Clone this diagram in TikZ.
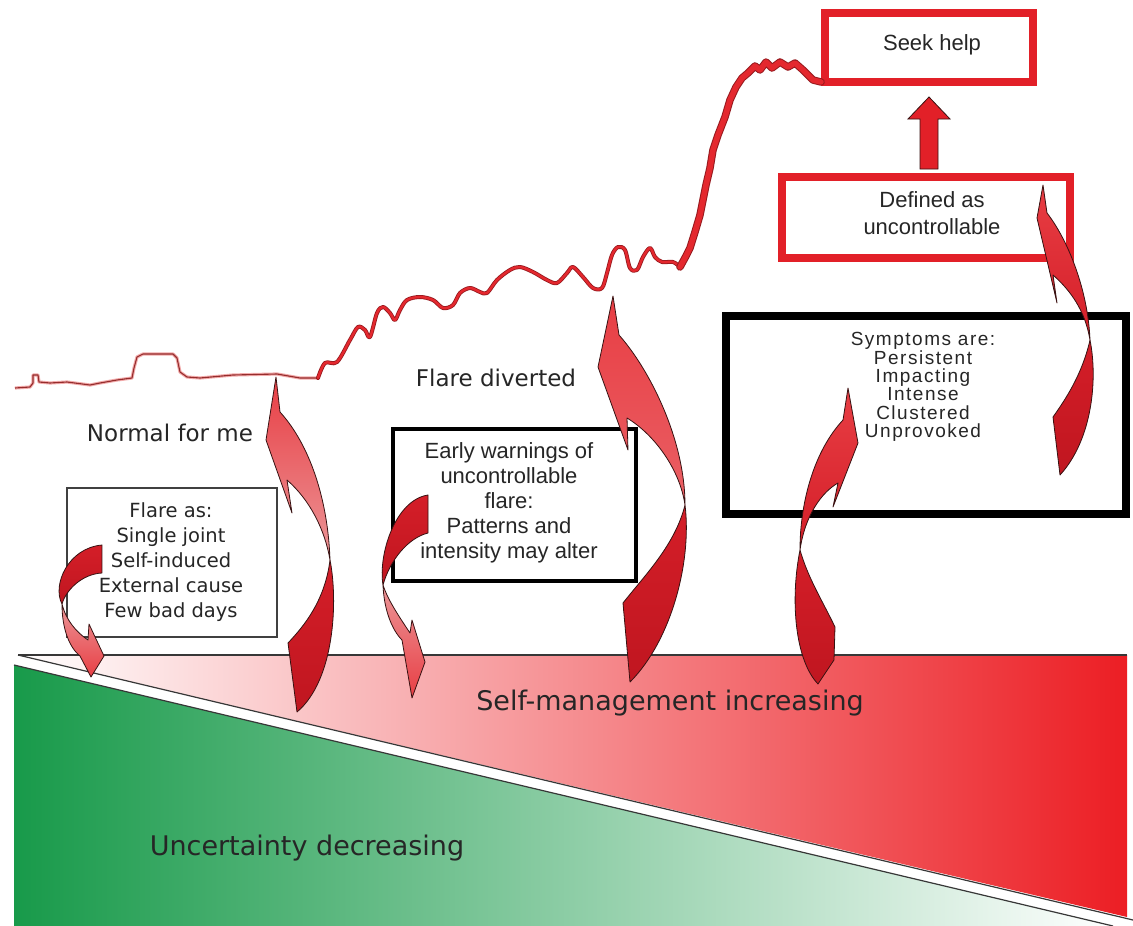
\documentclass[tikz,border=0pt]{standalone}
\usepackage{fontspec}
\setmainfont{DejaVu Sans}
\newfontfamily\arialf{Liberation Sans}
\newfontfamily\arialsp[LetterSpace=8]{Liberation Sans}
\newfontfamily\dejaf{DejaVu Sans}
\usetikzlibrary{calc}
\definecolor{boxred}{RGB}{226,32,40}
\definecolor{linered}{RGB}{228,40,46}
\definecolor{lineedge}{RGB}{150,25,30}
\definecolor{thincore}{RGB}{150,45,45}
\definecolor{thinhalo}{RGB}{242,170,170}
\definecolor{txtgray}{RGB}{38,38,38}
\definecolor{arrowedge}{RGB}{55,18,18}
\definecolor{wedgered}{RGB}{236,30,36}
\definecolor{wedgepink}{RGB}{244,172,174}
\definecolor{wedgegreen}{RGB}{24,154,74}
\definecolor{wedgelgreen}{RGB}{140,204,160}
\definecolor{wedgeline}{RGB}{55,55,55}
\definecolor{pdark}{RGB}{212,30,40}
\definecolor{pdark2}{RGB}{192,22,32}
\definecolor{pred}{RGB}{232,62,68}
\definecolor{ppink}{RGB}{236,150,152}
\definecolor{pmid}{RGB}{234,95,100}
\tikzset{
  arrline/.style={draw=arrowedge, line width=0.8pt, line join=round},
  redbox/.style={draw=boxred, line width=8pt, inner sep=0pt, fill=white},
  blackbox/.style={draw=black, inner sep=0pt, fill=white},
  txt/.style={text=txtgray, inner sep=0pt, align=center},
  thinhalo/.style={draw=thinhalo, line width=3.2pt, line join=round},
  thincore/.style={draw=thincore, line width=1.1pt, line join=round},
  waveedge/.style={draw=lineedge, line width=4pt, line join=round, line cap=round},
  waveline/.style={draw=linered, line width=2.4pt, line join=round, line cap=round},
  steepedge/.style={draw=lineedge, line width=7.5pt, line join=round, line cap=round},
  steepline/.style={draw=linered, line width=5.5pt, line join=round, line cap=round},
  wedgeedge/.style={draw=wedgeline, line width=1.2pt},
  uparrow/.style={fill=boxred, draw=arrowedge, line width=0.8pt, line join=miter}
}
\def\thinpath{(15,388) -- (30,387) -- (33,383) -- (33,375) -- (38,375) -- (39,382) -- (50,383) -- (67,382) -- (90,385) -- (100,383) -- (117,380) -- (132,378) -- (134,368) -- (137,357) -- (143,354) -- (173,354) -- (177,358) -- (180,372) -- (187,377) -- (200,378) -- (233,375) -- (277,374) -- (300,378) -- (318,378)}
\def\wavepath{plot[smooth, tension=0.55] coordinates {(318,378) (325,363) (337,362) (350,340) (358,327) (365,330) (370,337) (377,313) (383,307) (390,313) (395,320) (400,310) (407,300) (420,297) (433,300) (443,308) (453,305) (460,293) (470,288) (480,292) (487,293) (497,280) (510,270) (520,267) (533,272) (547,280) (557,283) (567,273) (573,267) (583,277) (593,288) (602,288) (607,273) (612,255) (618,247) (625,250) (630,268) (637,270) (643,257) (650,248) (655,257) (662,262) (673,262) (680,267)}}
\def\steeppath{(680,267) -- (686,256) -- (690,248) -- (695,232) -- (700,215) -- (703,200) -- (706,185) -- (710,168) -- (713,150) -- (718,135) -- (725,117) -- (730,100) -- (736,87) -- (742,78) -- (748,73) -- (755,66) -- (760,70) -- (766,62) -- (772,68) -- (780,62) -- (788,67) -- (795,63) -- (803,70) -- (813,80) -- ($(seekbox.south west)+(0,-4)$)}
\begin{document}
\begin{tikzpicture}[x=1pt,y=-1pt]
\useasboundingbox (0,0) rectangle (1133,926);
\fill[white] (0,0) rectangle (1133,926);

% wedge
\shade[left color=white, middle color=wedgepink, right color=wedgered] (18,655) -- (1127,655) -- (1127,917) -- cycle;
\shade[left color=wedgegreen, middle color=wedgelgreen, right color=white] (14,665) -- (1113,926) -- (14,926) -- cycle;
\draw[wedgeedge] (18,655) -- (1127,655);
\draw[wedgeedge] (18,655) -- (1133,920);
\draw[wedgeedge] (14,665) -- (1113,926);
\node[txt, font=\dejaf\fontsize{27}{30}\selectfont] (selfm) at (670,703) {Self-management increasing};
\node[txt, font=\dejaf\fontsize{27}{30}\selectfont, text=black!85] (uncert) at (307,848) {Uncertainty decreasing};

% boxes
\node[redbox, minimum width=208pt, minimum height=69pt] (seekbox) at (929,47.5) {};
\node[redbox, minimum width=288pt, minimum height=81pt] (defbox) at (926,217.5) {};
\node[blackbox, line width=8pt, minimum width=400pt, minimum height=198pt] (symbox) at (926,415) {};
\node[blackbox, line width=4pt, minimum width=243pt, minimum height=152pt] (earlybox) at (514.5,505) {};
\node[blackbox, draw=black!75, line width=1.3pt, minimum width=210pt, minimum height=149pt] (flarebox) at (172,562.5) {};

\node[txt, font=\arialf\fontsize{22}{25}\selectfont] (seektext) at (932,45) {Seek help};
\node[txt, font=\arialf\fontsize{22}{27}\selectfont] (deftext) at (932,213) {Defined as\\uncontrollable};
\node[txt, font=\arialsp\fontsize{19}{18.3}\selectfont] (symtext) at (923,387) {Symptoms are:\\Persistent\\Impacting\\Intense\\Clustered\\Unprovoked};
\node[txt, font=\arialf\fontsize{22}{25}\selectfont] (earlytext) at (509,503) {Early warnings of\\uncontrollable\\flare:\\Patterns and\\intensity may alter};
\node[txt, font=\dejaf\fontsize{19.5}{25}\selectfont] (flaretext) at (171,562) {Flare as:\\Single joint\\Self-induced\\External cause\\Few bad days};
\node[txt, font=\dejaf\fontsize{23}{26}\selectfont] (normal) at (170,433) {Normal for me};
\node[txt, font=\dejaf\fontsize{23}{26}\selectfont] (diverted) at (496,378) {Flare diverted};

% the course of the flare
\draw[thinhalo] \thinpath;
\draw[thincore] \thinpath;
\draw[waveedge] \wavepath;
\draw[waveline] \wavepath;
\draw[steepedge] \steeppath;
\draw[steepline] \steeppath;

% up arrow between the red boxes
\filldraw[uparrow] ($(defbox.north -| seekbox.south)+(-9,-4)$) -- ($(seekbox.south)+(-9,33)$) -- ($(seekbox.south)+(-21,33)$) -- ($(seekbox.south)+(0,11)$) -- ($(seekbox.south)+(21,33)$) -- ($(seekbox.south)+(9,33)$) -- ($(defbox.north -| seekbox.south)+(9,-4)$) -- cycle;

% curved arrow A (inside flare box)
\shadedraw[arrline, top color=pdark, bottom color=pdark2] (62,604) .. controls (52,585) and (68,548) .. (102,545) -- (102,573) .. controls (82,574) and (66,590) .. (62,604) -- cycle;
\shadedraw[arrline, top color=ppink, bottom color=pred] (91,677) -- (104,656) -- (89,624) -- (88,640) .. controls (76,632) and (66,620) .. (62,604) .. controls (62,630) and (70,648) .. (80,656) -- cycle;

% curved arrow B (normal for me)
\shadedraw[arrline, top color=pdark, bottom color=pdark2] (330,560) .. controls (338,600) and (335,680) .. (297,712) -- (288,643) .. controls (305,625) and (325,600) .. (330,560) -- cycle;
\shadedraw[arrline, top color=pred, bottom color=ppink] (276,377) -- (266,440) -- (292,513) -- (287,480) .. controls (310,500) and (325,530) .. (330,560) .. controls (328,500) and (310,445) .. (280,412) -- cycle;

% curved arrow C (early warnings)
\shadedraw[arrline, top color=pdark, bottom color=pdark2] (383,585) .. controls (378,555) and (395,500) .. (428,495) -- (428,533) .. controls (408,538) and (390,560) .. (383,585) -- cycle;
\shadedraw[arrline, top color=ppink, bottom color=pred] (412,698) -- (425,662) -- (412,620) -- (410,633) .. controls (398,615) and (388,600) .. (383,585) .. controls (384,610) and (392,630) .. (402,640) -- cycle;

% curved arrow D (flare diverted)
\shadedraw[arrline, top color=pdark, bottom color=pdark2] (685,505) .. controls (692,560) and (672,640) .. (630,682) -- (623,603) .. controls (645,575) and (675,545) .. (685,505) -- cycle;
\shadedraw[arrline, top color=pred, bottom color=pmid] (613,296) -- (598,367) -- (628,450) -- (627,418) .. controls (655,435) and (680,470) .. (685,505) .. controls (685,440) and (650,370) .. (619,335) -- cycle;

% curved arrow E (into symptoms box)
\shadedraw[arrline, top color=pdark, bottom color=pdark2] (800,550) .. controls (790,600) and (795,660) .. (818,684) -- (834,660) -- (835,627) .. controls (822,600) and (808,578) .. (800,550) -- cycle;
\shadedraw[arrline, top color=pred, bottom color=pdark] (848,388) -- (858,443) -- (833,507) -- (838,483) .. controls (822,492) and (805,515) .. (800,550) .. controls (800,500) and (815,450) .. (843,420) -- cycle;

% curved arrow F (to defined as uncontrollable)
\shadedraw[arrline, top color=pdark, bottom color=pdark2] (1090,340) .. controls (1098,380) and (1092,440) .. (1060,475) -- (1053,417) .. controls (1065,400) and (1082,375) .. (1090,340) -- cycle;
\shadedraw[arrline, top color=pred, bottom color=pdark] (1043,185) -- (1037,218) -- (1057,303) -- (1053,275) .. controls (1070,290) and (1085,310) .. (1090,340) .. controls (1088,290) and (1068,240) .. (1047,213) -- cycle;
\end{tikzpicture}
\end{document}
